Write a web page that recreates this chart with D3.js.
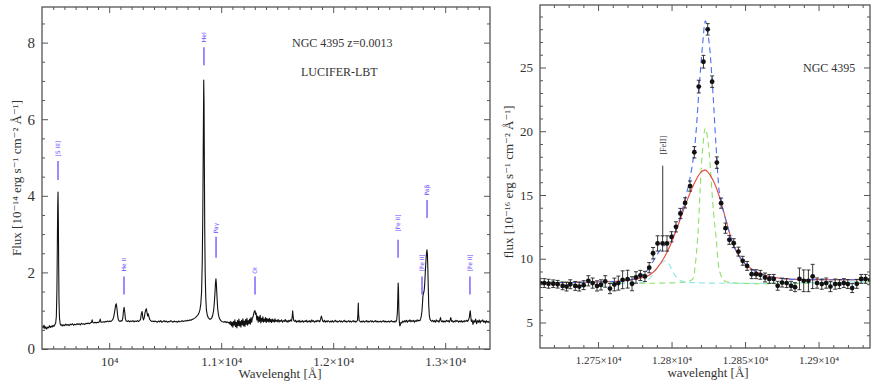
<!DOCTYPE html>
<html><head><meta charset="utf-8">
<script src="https://cdn.jsdelivr.net/npm/d3@7"></script>
<style>body{margin:0;background:#fff}svg{display:block}</style>
</head><body>
<svg id="c" width="872" height="382"></svg>
<script>
// ---------------- DATA ----------------
// Left panel: full NIR spectrum [wavelength Å, flux 1e-14]
const spectrum = [
[9402,0.60],[9410,0.55],[9418,0.62],[9426,0.53],[9434,0.58],[9442,0.52],[9450,0.57],[9458,0.55],[9466,0.61],[9474,0.56],
[9482,0.60],[9490,0.57],[9498,0.62],[9506,0.59],[9514,0.63],[9522,0.68],[9528,0.85],[9533,1.50],[9537,2.70],[9540,3.70],
[9543,4.10],[9546,3.40],[9549,2.10],[9552,1.25],[9556,0.82],[9562,0.66],[9570,0.61],[9578,0.64],[9586,0.60],[9594,0.63],
[9602,0.61],[9612,0.65],[9622,0.62],[9632,0.64],[9642,0.61],[9652,0.65],[9662,0.63],[9672,0.66],[9682,0.62],[9692,0.65],
[9702,0.63],[9712,0.66],[9722,0.64],[9732,0.66],[9742,0.63],[9752,0.67],[9762,0.65],[9772,0.66],[9782,0.64],[9792,0.67],
[9802,0.66],[9812,0.68],[9822,0.66],[9832,0.68],[9842,0.70],[9848,0.76],[9854,0.69],[9864,0.68],[9874,0.70],[9884,0.68],
[9894,0.70],[9904,0.69],[9914,0.72],[9920,0.78],[9926,0.70],[9936,0.70],[9946,0.71],[9956,0.70],[9966,0.72],[9976,0.71],
[9986,0.73],[9996,0.71],[10006,0.73],[10016,0.72],[10026,0.75],[10034,0.78],[10042,0.86],[10050,1.00],[10057,1.14],[10063,1.18],
[10069,1.06],[10075,0.88],[10082,0.76],[10090,0.73],[10098,0.72],[10106,0.74],[10114,0.73],[10121,0.80],[10127,0.98],[10133,1.09],
[10139,0.96],[10145,0.78],[10152,0.73],[10162,0.72],[10172,0.74],[10182,0.71],[10192,0.73],[10202,0.72],[10212,0.74],[10222,0.71],
[10232,0.73],[10242,0.72],[10252,0.74],[10262,0.72],[10272,0.74],[10280,0.78],[10287,0.92],[10294,0.98],[10300,0.82],[10306,0.76],
[10313,0.82],[10320,0.95],[10327,1.03],[10332,1.05],[10337,0.96],[10343,0.86],[10349,0.92],[10355,0.84],[10362,0.77],[10370,0.74],
[10380,0.72],[10390,0.73],[10400,0.71],[10410,0.73],[10420,0.72],[10430,0.70],[10440,0.73],[10450,0.71],[10460,0.74],[10470,0.70],
[10480,0.72],[10490,0.74],[10500,0.71],[10510,0.73],[10520,0.70],[10530,0.72],[10540,0.71],[10550,0.74],[10560,0.72],[10570,0.70],
[10580,0.73],[10590,0.71],[10600,0.72],[10610,0.70],[10620,0.73],[10630,0.71],[10640,0.72],[10650,0.74],[10660,0.72],[10670,0.73],
[10680,0.74],[10690,0.73],[10700,0.75],[10710,0.74],[10720,0.76],[10730,0.75],[10740,0.77],[10750,0.78],[10760,0.80],[10770,0.82],
[10780,0.85],[10790,0.88],[10800,0.93],[10810,1.02],[10818,1.18],[10825,1.50],[10831,2.30],[10836,3.60],[10840,5.40],[10844,7.02],
[10847,6.40],[10850,4.70],[10853,3.10],[10857,2.00],[10862,1.35],[10868,1.02],[10876,0.88],[10886,0.81],[10896,0.78],[10906,0.78],
[10916,0.81],[10924,0.88],[10932,1.00],[10938,1.18],[10944,1.45],[10949,1.72],[10953,1.83],[10957,1.70],[10962,1.38],[10968,1.08],
[10975,0.90],[10984,0.80],[10994,0.75],[11004,0.72],[11014,0.71],[11024,0.70],[11034,0.72],[11044,0.69],[11054,0.71],[11064,0.68],
[11072,0.70],[11080,0.64],[11086,0.72],[11092,0.60],[11098,0.70],[11104,0.57],[11110,0.72],[11116,0.62],[11122,0.76],[11128,0.58],
[11134,0.70],[11140,0.55],[11146,0.74],[11152,0.61],[11158,0.78],[11164,0.60],[11170,0.72],[11176,0.57],[11182,0.75],[11188,0.63],
[11194,0.79],[11200,0.60],[11206,0.73],[11212,0.59],[11218,0.77],[11224,0.64],[11230,0.80],[11236,0.62],[11242,0.74],[11248,0.66],
[11254,0.78],[11260,0.65],[11266,0.82],[11272,0.70],[11278,0.80],[11284,0.84],[11290,0.92],[11296,0.98],[11302,1.00],[11307,0.90],
[11312,0.94],[11318,0.76],[11324,0.86],[11330,0.70],[11336,0.84],[11342,0.72],[11348,0.88],[11354,0.68],[11360,0.80],[11366,0.72],
[11372,0.84],[11378,0.70],[11384,0.78],[11390,0.72],[11396,0.82],[11402,0.69],[11408,0.80],[11414,0.72],[11420,0.78],[11426,0.70],
[11432,0.80],[11438,0.71],[11444,0.77],[11450,0.69],[11456,0.78],[11462,0.72],[11468,0.76],[11474,0.70],[11480,0.79],[11486,0.72],
[11492,0.75],[11500,0.71],[11508,0.77],[11516,0.70],[11524,0.75],[11532,0.72],[11540,0.76],[11548,0.70],[11556,0.74],[11564,0.72],
[11572,0.77],[11580,0.71],[11588,0.74],[11596,0.70],[11604,0.75],[11612,0.72],[11620,0.76],[11628,0.73],[11634,0.84],[11638,1.00],
[11642,0.86],[11648,0.74],[11656,0.72],[11664,0.75],[11672,0.70],[11680,0.73],[11688,0.71],[11696,0.75],[11704,0.70],[11712,0.73],
[11720,0.71],[11728,0.74],[11736,0.70],[11744,0.73],[11752,0.72],[11760,0.75],[11768,0.70],[11776,0.73],[11784,0.71],[11792,0.74],
[11800,0.70],[11808,0.76],[11816,0.72],[11824,0.74],[11832,0.70],[11840,0.73],[11848,0.71],[11856,0.75],[11864,0.72],[11872,0.74],
[11880,0.71],[11888,0.78],[11894,0.86],[11900,0.80],[11906,0.73],[11914,0.71],[11922,0.75],[11930,0.70],[11938,0.73],[11946,0.71],
[11954,0.74],[11962,0.72],[11970,0.70],[11978,0.73],[11986,0.71],[11994,0.74],[12002,0.70],[12010,0.72],[12018,0.75],[12026,0.71],
[12034,0.73],[12042,0.70],[12050,0.72],[12058,0.74],[12066,0.71],[12074,0.73],[12082,0.70],[12090,0.72],[12098,0.75],[12106,0.71],
[12114,0.73],[12122,0.70],[12130,0.72],[12138,0.74],[12146,0.71],[12154,0.73],[12162,0.70],[12170,0.72],[12178,0.74],[12186,0.71],
[12194,0.73],[12202,0.70],[12210,0.72],[12217,0.76],[12221,0.95],[12224,1.20],[12227,0.90],[12232,0.74],[12240,0.72],[12248,0.70],
[12256,0.73],[12264,0.71],[12272,0.73],[12280,0.70],[12288,0.72],[12296,0.74],[12304,0.71],[12312,0.73],[12320,0.70],[12328,0.72],
[12336,0.74],[12344,0.71],[12352,0.73],[12360,0.70],[12368,0.72],[12376,0.74],[12384,0.71],[12392,0.73],[12400,0.70],[12408,0.72],
[12416,0.71],[12424,0.73],[12432,0.70],[12440,0.72],[12448,0.74],[12456,0.71],[12464,0.73],[12472,0.70],[12480,0.72],[12488,0.71],
[12496,0.73],[12504,0.70],[12512,0.72],[12520,0.74],[12528,0.71],[12536,0.72],[12544,0.70],[12552,0.73],[12560,0.71],[12567,0.76],
[12573,0.95],[12577,1.35],[12580,1.72],[12583,1.55],[12586,1.05],[12590,0.72],[12595,0.60],[12600,0.64],[12606,0.70],[12614,0.68],
[12622,0.73],[12630,0.70],[12638,0.74],[12646,0.71],[12654,0.75],[12662,0.70],[12670,0.74],[12678,0.72],[12686,0.76],[12694,0.71],
[12702,0.74],[12710,0.72],[12718,0.75],[12726,0.70],[12734,0.74],[12742,0.72],[12750,0.76],[12758,0.73],[12766,0.75],[12774,0.74],
[12780,0.78],[12786,0.85],[12792,0.98],[12797,1.18],[12801,1.38],[12805,1.45],[12809,1.48],[12813,1.55],[12817,1.70],[12821,1.92],
[12825,2.15],[12829,2.35],[12833,2.50],[12837,2.59],[12841,2.48],[12845,2.10],[12849,1.60],[12853,1.15],[12858,0.88],[12864,0.78],
[12872,0.74],[12880,0.72],[12888,0.75],[12896,0.71],[12904,0.74],[12912,0.70],[12920,0.76],[12928,0.72],[12936,0.74],[12944,0.70],
[12952,0.76],[12958,0.82],[12964,0.73],[12972,0.71],[12980,0.74],[12988,0.70],[12996,0.73],[13004,0.71],[13012,0.75],[13020,0.72],
[13028,0.74],[13036,0.70],[13044,0.76],[13050,0.82],[13056,0.72],[13064,0.74],[13072,0.70],[13080,0.73],[13088,0.71],[13096,0.75],
[13104,0.72],[13112,0.74],[13120,0.70],[13128,0.73],[13136,0.71],[13144,0.74],[13152,0.70],[13160,0.73],[13168,0.71],[13176,0.74],
[13184,0.72],[13192,0.75],[13200,0.72],[13208,0.76],[13215,0.82],[13220,0.94],[13224,1.00],[13228,0.86],[13233,0.72],[13240,0.76],
[13248,0.64],[13256,0.74],[13264,0.70],[13272,0.78],[13280,0.66],[13288,0.74],[13296,0.70],[13304,0.76],[13312,0.68],[13320,0.74],
[13328,0.72],[13336,0.76],[13344,0.70],[13352,0.73],[13360,0.68],[13368,0.74],[13376,0.70],[13384,0.72],[13392,0.69],[13398,0.71]
];
// line identifications: [label, wavelength, flux of label centre, line top flux, line bottom flux]
const lineIds = [
["[S III]",9543,5.23,4.91,4.41],
["HeI",10846,8.14,7.88,7.41],
["He II",10132,2.20,1.89,1.42],
["Paγ",10954,3.16,2.93,2.38],
["OI",11302,2.05,1.89,1.42],
["[Fe II]",12579,3.29,2.85,2.38],
["Paβ",12838,4.15,3.89,3.42],
["[Fe II]",12793,2.25,1.89,1.42],
["[Fe II]",13221,2.25,1.89,1.42]
];
const leftXDomain = [9400,13400];
const leftYDomain = [0,8.93];
const leftXTicks = [10000,11000,12000,13000];
const leftXTickLabels = ["10⁴","1.1×10⁴","1.2×10⁴","1.3×10⁴"];
const leftYTicks = [0,2,4,6,8];
const leftYTickLabels = ["0","2","4","6","8"];

// Right panel: Paβ zoom, points [wavelength, flux 1e-16, error]
const pabPoints = [
[12710.5,8.09,0.35],[12713.4,8.09,0.35],[12716.3,8.04,0.35],[12719.5,8.04,0.3],[12722.5,8.00,0.3],[12725.9,7.87,0.3],
[12728.6,7.82,0.35],[12731.1,8.00,0.35],[12734.5,7.87,0.35],[12737.2,7.82,0.35],[12740.2,7.93,0.35],[12743.4,8.27,0.4],
[12746.3,8.09,0.4],[12749.3,7.87,0.4],[12752.0,7.95,0.4],[12754.9,8.22,0.45],[12758.1,7.66,0.4],[12761.1,7.98,0.5],
[12763.8,8.09,0.55],[12766.7,8.35,0.7],[12770.1,8.40,0.7],[12773.1,8.04,0.55],[12775.8,8.53,0.45],[12778.8,8.69,0.4],
[12781.9,8.61,0.4],[12784.8,9.30,0.4],[12787.4,10.43,0.45],[12790.5,11.20,0.6],[12793.9,11.20,0.6],[12796.9,11.20,0.6],
[12800.0,11.72,0.4],[12803.0,12.50,0.4],[12806.0,13.55,0.4],[12809.2,14.38,0.4],[12812.6,15.70,0.4],[12815.5,18.35,0.45],
[12818.5,23.50,0.5],[12821.7,25.45,0.5],[12824.6,27.99,0.45],[12827.6,23.89,0.45],[12830.8,17.54,0.45],[12833.7,14.36,0.4],
[12836.7,12.40,0.4],[12839.3,11.48,0.35],[12842.3,11.22,0.35],[12845.5,10.56,0.35],[12848.4,9.84,0.35],[12851.4,9.44,0.35],
[12854.5,8.79,0.35],[12857.5,8.79,0.35],[12860.4,8.74,0.35],[12863.6,8.53,0.35],[12866.5,8.42,0.35],[12869.5,8.42,0.35],
[12872.2,7.88,0.35],[12875.2,8.13,0.35],[12878.3,8.09,0.35],[12881.3,7.88,0.35],[12884.0,7.77,0.35],[12887.0,8.42,0.85],
[12889.9,8.27,0.85],[12893.1,8.27,0.85],[12896.0,8.61,0.95],[12899.0,8.09,0.4],[12902.2,8.01,0.4],[12905.2,8.09,0.4],
[12908.1,7.82,0.4],[12911.3,8.01,0.4],[12914.2,8.01,0.35],[12917.2,8.09,0.35],[12919.9,8.01,0.35],[12922.9,7.70,0.35],
[12926.0,8.03,0.35],[12929.0,8.42,0.35],[12932.0,8.42,0.35],[12935.1,8.35,0.35]
];
// fitted components
const fitBroad = [
[12710,8.12],[12730,8.14],[12750,8.18],[12765,8.25],[12775,8.40],[12780,8.52],[12785,8.72],[12790,9.25],[12795,10.1],
[12800,11.3],[12805,12.8],[12810,14.4],[12815,15.8],[12820,16.8],[12823,16.95],[12826,16.6],[12830,15.7],[12834,14.3],
[12838,12.6],[12842,11.1],[12846,10.2],[12850,9.6],[12855,9.15],[12860,8.85],[12867,8.6],[12875,8.45],[12885,8.38],
[12900,8.36],[12920,8.35],[12936,8.35]
];
const fitTotal = [
[12710,8.12],[12750,8.18],[12770,8.3],[12778,8.55],[12782,8.9],[12786,9.5],[12790,10.3],[12794,10.9],[12798,11.4],
[12802,12.1],[12806,13.3],[12809,14.6],[12812,16.0],[12815.5,18.5],[12819,23.8],[12821.2,26.9],[12823,28.67],[12825.3,27.2],
[12827.6,24.0],[12830.3,18.8],[12832.5,15.2],[12834,14.3],[12838,12.6],[12842,11.1],[12846,10.2],[12850,9.6],[12855,9.15],
[12860,8.85],[12867,8.6],[12875,8.45],[12885,8.38],[12900,8.36],[12920,8.35],[12936,8.35]
];
const fitNarrow = [
[12710,8.2],[12810,8.2],[12814.4,8.42],[12816,9.4],[12817.8,11.7],[12819.4,15.3],[12821,18.4],[12823,20.24],[12825,19.0],
[12826.9,16.2],[12828.6,13.6],[12830.3,11.7],[12832.5,9.1],[12834.8,8.42],[12837,8.2],[12936,8.2]
];
const fitFeII = [
[12710,8.2],[12782,8.2],[12785,8.45],[12789.4,9.13],[12792.5,9.6],[12795.6,9.84],[12798.5,9.55],[12800.7,9.0],
[12803,8.6],[12805.3,8.35],[12808,8.2],[12936,8.2]
];
const rightXDomain = [12710.5,12935];
const rightYDomain = [3,29.9];
const rightXTicks = [12750,12800,12850,12900];
const rightXTickLabels = ["1.275×10⁴","1.28×10⁴","1.285×10⁴","1.29×10⁴"];
const rightYTicks = [5,10,15,20,25];
const rightYTickLabels = ["5","10","15","20","25"];

// ---------------- DRAW ----------------
const svg = d3.select("#c");
const FONT = "'Liberation Serif','DejaVu Serif',serif";
const TXT = "#333";
const AX = "#555";

function drawAxes(xs, ys, box, xT, xTL, xMinor, yT, yTL, yMinor, xFont, yFont){
  const g = svg.append("g");
  const mk = (axis, tr) => {
    const a = g.append("g").attr("transform", tr).call(axis);
    a.select(".domain").remove();
    a.selectAll("line").attr("stroke", AX).attr("stroke-width", 1);
    return a;
  };
  mk(d3.axisBottom(xs).tickValues(xT).tickSize(-6).tickPadding(8).tickFormat((d,i)=>xTL[i]), `translate(0,${box.y1})`)
    .selectAll("text").attr("font-family",FONT).attr("font-size",xFont).attr("fill",TXT);
  mk(d3.axisBottom(xs).tickValues(xMinor).tickSize(-3).tickFormat(""), `translate(0,${box.y1})`);
  mk(d3.axisTop(xs).tickValues(xT).tickSize(-6).tickFormat(""), `translate(0,${box.y0})`);
  mk(d3.axisTop(xs).tickValues(xMinor).tickSize(-3).tickFormat(""), `translate(0,${box.y0})`);
  mk(d3.axisLeft(ys).tickValues(yT).tickSize(-6).tickPadding(7).tickFormat((d,i)=>yTL[i]), `translate(${box.x0},0)`)
    .selectAll("text").attr("font-family",FONT).attr("font-size",yFont).attr("fill",TXT);
  mk(d3.axisLeft(ys).tickValues(yMinor).tickSize(-3).tickFormat(""), `translate(${box.x0},0)`);
  mk(d3.axisRight(ys).tickValues(yT).tickSize(-6).tickFormat(""), `translate(${box.x1},0)`);
  mk(d3.axisRight(ys).tickValues(yMinor).tickSize(-3).tickFormat(""), `translate(${box.x1},0)`);
  g.append("rect").attr("x",box.x0).attr("y",box.y0).attr("width",box.x1-box.x0).attr("height",box.y1-box.y0)
    .attr("fill","none").attr("stroke",AX).attr("stroke-width",1.3);
}

// ---- Left panel ----
const LB = {x0:42,x1:490,y0:7,y1:349};
const xL = d3.scaleLinear().domain(leftXDomain).range([LB.x0,LB.x1]);
const yL = d3.scaleLinear().domain(leftYDomain).range([LB.y1,LB.y0]);
svg.append("defs").append("clipPath").attr("id","clipL").append("rect")
  .attr("x",LB.x0).attr("y",LB.y0).attr("width",LB.x1-LB.x0).attr("height",LB.y1-LB.y0);
svg.select("defs").append("clipPath").attr("id","clipR").append("rect")
  .attr("x",540).attr("y",5).attr("width",330).attr("height",343);

svg.append("path").datum(spectrum).attr("clip-path","url(#clipL)")
  .attr("d", d3.line().x(d=>xL(d[0])).y(d=>yL(d[1])))
  .attr("fill","none").attr("stroke","#111").attr("stroke-width",1.1).attr("stroke-linejoin","round");

drawAxes(xL, yL, LB, leftXTicks, leftXTickLabels, d3.range(9500,13400,100).filter(v=>v%1000),
  leftYTicks, leftYTickLabels, d3.range(0.5,8.9,0.5).filter(v=>v%2), 13, 15);

const BLUE = "#6a4cff";
const lid = svg.append("g");
lineIds.forEach(([lab,w,ft,l1,l2])=>{
  lid.append("line").attr("x1",xL(w)).attr("x2",xL(w)).attr("y1",yL(l1)).attr("y2",yL(l2))
    .attr("stroke",BLUE).attr("stroke-width",1.3);
  lid.append("text").attr("transform",`translate(${xL(w)+2},${yL(ft)}) rotate(-90)`)
    .attr("text-anchor","middle").attr("font-family","'DejaVu Sans',sans-serif").attr("font-size",6)
    .attr("fill",BLUE).text(lab);
});
svg.append("text").attr("x",292).attr("y",47).attr("font-family",FONT).attr("font-size",12).attr("fill",TXT)
  .text("NGC 4395 z=0.0013");
svg.append("text").attr("x",301).attr("y",76).attr("font-family",FONT).attr("font-size",12).attr("fill",TXT)
  .text("LUCIFER-LBT");
svg.append("text").attr("x",280).attr("y",378).attr("text-anchor","middle").attr("font-family",FONT)
  .attr("font-size",13).attr("fill",TXT).text("Wavelenght [Å]");
svg.append("text").attr("transform","translate(21,178) rotate(-90)").attr("text-anchor","middle")
  .attr("font-family",FONT).attr("font-size",13).attr("fill",TXT).text("Flux [10⁻¹⁴ erg s⁻¹ cm⁻² Å⁻¹]");

// ---- Right panel ----
const RB = {x0:540,x1:870,y0:5,y1:348};
const xR = d3.scaleLinear().domain(rightXDomain).range([RB.x0,RB.x1]);
const yR = d3.scaleLinear().domain(rightYDomain).range([RB.y1,RB.y0]);
const lineR = d3.line().x(d=>xR(d[0])).y(d=>yR(d[1])).curve(d3.curveCatmullRom);
const fits = svg.append("g").attr("clip-path","url(#clipR)");
fits.append("path").datum(fitNarrow).attr("d",lineR).attr("fill","none").attr("stroke","#8ee06a")
  .attr("stroke-width",1.1).attr("stroke-dasharray","6,4");
fits.append("path").datum(fitFeII).attr("d",lineR).attr("fill","none").attr("stroke","#8ee6e6")
  .attr("stroke-width",1.1).attr("stroke-dasharray","6,4");
fits.append("path").datum(fitBroad).attr("d",lineR).attr("fill","none").attr("stroke","#e8463c")
  .attr("stroke-width",1.1);
fits.append("path").datum(fitTotal).attr("d",lineR).attr("fill","none").attr("stroke","#4a6ef0")
  .attr("stroke-width",1.1).attr("stroke-dasharray","6,4");

const pts = svg.append("g").attr("clip-path","url(#clipR)");
pabPoints.forEach(([w,f,e])=>{
  const x = xR(w);
  pts.append("line").attr("x1",x).attr("x2",x).attr("y1",yR(f-e)).attr("y2",yR(f+e)).attr("stroke","#222").attr("stroke-width",0.9);
  [f-e,f+e].forEach(v=>pts.append("line").attr("x1",x-2).attr("x2",x+2).attr("y1",yR(v)).attr("y2",yR(v))
    .attr("stroke","#222").attr("stroke-width",0.9));
  pts.append("circle").attr("cx",x).attr("cy",yR(f)).attr("r",2.4).attr("fill","#111");
});

drawAxes(xR, yR, RB, rightXTicks, rightXTickLabels, d3.range(12720,12935,10).filter(v=>v%50),
  rightYTicks, rightYTickLabels, d3.range(4,30,1).filter(v=>v%5), 11, 13);

// [FeII] marker
svg.append("line").attr("x1",xR(12794)).attr("x2",xR(12794)).attr("y1",yR(17.3)).attr("y2",yR(11.7))
  .attr("stroke","#333").attr("stroke-width",1);
svg.append("text").attr("transform",`translate(${xR(12794)+3},${yR(18.9)}) rotate(-90)`).attr("text-anchor","middle")
  .attr("font-family",FONT).attr("font-size",8).attr("fill",TXT).text("[FeII]");
svg.append("text").attr("x",803).attr("y",72).attr("font-family",FONT).attr("font-size",12).attr("fill",TXT)
  .text("NGC 4395");
svg.append("text").attr("x",708).attr("y",377).attr("text-anchor","middle").attr("font-family",FONT)
  .attr("font-size",13).attr("fill",TXT).text("wavelenght [Å]");
svg.append("text").attr("transform","translate(513,182) rotate(-90)").attr("text-anchor","middle")
  .attr("font-family",FONT).attr("font-size",13).attr("fill",TXT).text("flux [10⁻¹⁶ erg s⁻¹ cm⁻² Å⁻¹]");
</script>
</body></html>
